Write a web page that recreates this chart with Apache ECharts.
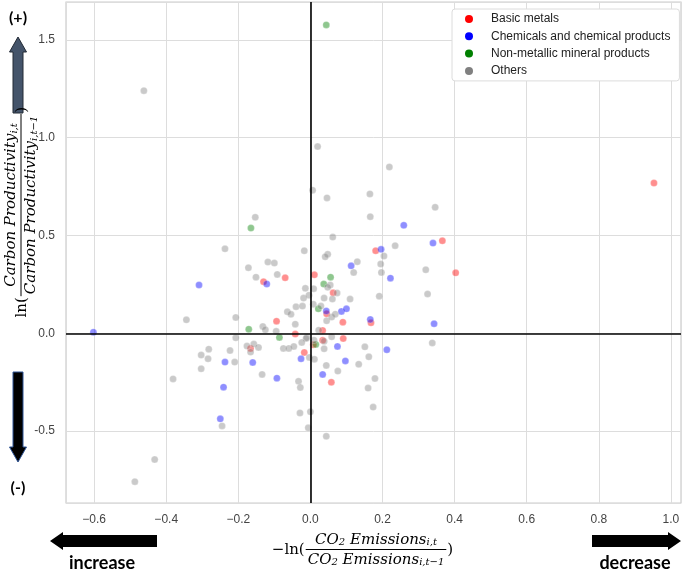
<!DOCTYPE html>
<html><head><meta charset="utf-8">
<script src="https://cdn.jsdelivr.net/npm/echarts@6/dist/echarts.min.js"></script>
<style>html,body{margin:0;padding:0;background:#fff}#c{width:685px;height:572px}</style>
</head><body><div id="c"></div>
<script>
const categories = ['Basic metals','Chemicals and chemical products','Non-metallic mineral products','Others'];
const legendColors = ['#ff0000','#0000ff','#008000','#808080'];
const pointColors = ['rgba(255,0,0,0.55)','rgba(0,0,255,0.55)','rgba(0,128,0,0.55)','rgba(128,128,128,0.52)'];

const basicMetals = [[0.953,0.768],[0.366,0.473],[0.403,0.309],[0.181,0.422],[0.011,0.299],[0.063,0.207],[0.045,0.100],[0.090,0.057],[0.168,0.054],[0.034,0.015],[0.091,-0.027],[0.034,-0.036],[0.008,-0.059],[0.058,-0.250],[-0.017,-0.098],[-0.042,-0.004],[-0.094,0.062],[-0.130,0.264],[-0.070,0.284],[-0.166,-0.077]];
const chemicals = [[-0.602,0.006],[0.259,0.552],[0.196,0.429],[0.340,0.461],[0.113,0.345],[0.222,0.282],[0.044,0.114],[0.086,0.112],[0.100,0.125],[0.166,0.071],[0.343,0.049],[-0.309,0.247],[-0.121,0.252],[-0.026,-0.130],[-0.237,-0.147],[-0.160,-0.149],[-0.093,-0.229],[-0.241,-0.275],[-0.250,-0.437],[0.075,-0.067],[0.212,-0.084],[0.097,-0.141],[0.034,-0.210]];
const nonMetallic = [[0.044,1.576],[-0.165,0.538],[0.056,0.287],[0.037,0.252],[0.022,0.125],[-0.171,0.021],[-0.086,-0.021],[0.015,-0.057]];
const others = [[-0.462,1.240],[0.020,0.954],[0.006,0.731],[0.046,0.692],[0.165,0.712],[0.166,0.596],[-0.153,0.593],[0.062,0.492],[-0.237,0.432],[-0.017,0.422],[0.048,0.404],[0.041,0.391],[0.219,0.850],[0.346,0.644],[0.235,0.448],[0.204,0.395],[0.130,0.366],[0.195,0.354],[0.320,0.325],[-0.172,0.335],[-0.118,0.364],[-0.100,0.359],[-0.151,0.287],[-0.092,0.301],[-0.014,0.230],[-0.019,0.180],[-0.344,0.069],[-0.207,0.081],[-0.064,0.110],[-0.054,0.097],[-0.040,0.136],[-0.022,0.139],[-0.042,0.047],[-0.132,0.035],[-0.125,0.018],[-0.095,0.010],[-0.207,-0.023],[-0.010,-0.021],[0.120,0.311],[0.197,0.311],[0.055,0.247],[0.048,0.235],[0.009,0.228],[0.074,0.206],[-0.004,0.195],[0.038,0.180],[0.061,0.175],[0.110,0.175],[0.191,0.190],[0.325,0.201],[0.008,0.149],[0.029,0.139],[0.045,0.064],[0.059,0.083],[0.069,0.098],[0.023,0.016],[-0.012,-0.026],[0.059,-0.018],[-0.176,-0.065],[-0.157,-0.055],[-0.144,-0.072],[-0.166,-0.096],[-0.075,-0.077],[-0.060,-0.077],[-0.046,-0.067],[-0.024,-0.047],[-0.282,-0.081],[-0.303,-0.111],[-0.284,-0.130],[-0.223,-0.088],[-0.210,-0.147],[-0.303,-0.181],[-0.381,-0.233],[-0.134,-0.210],[-0.033,-0.245],[-0.028,-0.277],[-0.029,-0.407],[-0.245,-0.473],[-0.006,-0.483],[0.010,-0.035],[0.038,-0.040],[0.038,-0.079],[-0.003,-0.123],[0.011,-0.132],[0.151,-0.069],[0.162,-0.120],[0.338,-0.049],[0.134,-0.158],[0.044,-0.164],[0.076,-0.193],[0.179,-0.231],[0.160,-0.280],[0.174,-0.377],[0.000,-0.401],[0.044,-0.526],[-0.432,-0.645],[-0.487,-0.758]];
const seriesData = [basicMetals, chemicals, nonMetallic, others];

const xRange = [-0.678, 1.028];
const yRange = [-0.867, 1.693];

// text measurement for the math-style axis titles
const mctx = document.createElement('canvas').getContext('2d');
function tw(t, font){ mctx.font = font; return mctx.measureText(t).width; }

function makeFrac(cx, cy, rot, size, prefix, num, den){
  const subSize = Math.round(size*0.68);
  const mFont = 'italic ' + size + 'px "DejaVu Serif"';
  const sFont = 'italic ' + subSize + 'px "DejaVu Serif"';
  const width = parts => parts.reduce((a,p)=>a + tw(p[0], p[1]==='m'?mFont:sFont), 0);
  const rich = parts => parts.map(p => '{' + p[1] + '|' + p[0] + '}').join('');
  const barW = Math.max(width(num), width(den)) + 4;
  const richStyle = {
    m:{fontFamily:'DejaVu Serif', fontStyle:'italic', fontSize:size, lineHeight:size+3, verticalAlign:'bottom', fill:'#000'},
    s:{fontFamily:'DejaVu Serif', fontStyle:'italic', fontSize:subSize, lineHeight:subSize-3, verticalAlign:'bottom', fill:'#000'}
  };
  return {
    type:'group', x:cx, y:cy, rotation:rot, silent:true,
    children:[
      {type:'line', shape:{x1:-barW/2, y1:0, x2:barW/2, y2:0}, style:{stroke:'#000', lineWidth:1}},
      {type:'text', style:{text:rich(num), x:0, y:-2, align:'center', verticalAlign:'bottom', rich:richStyle, fill:'#000', fontFamily:'DejaVu Serif', fontSize:size}},
      {type:'text', style:{text:rich(den), x:0, y:0, align:'center', verticalAlign:'top', rich:richStyle, fill:'#000', fontFamily:'DejaVu Serif', fontSize:size}},
      {type:'text', style:{text:prefix, x:-barW/2 - 1, y:1, align:'right', verticalAlign:'middle', fill:'#000', font: size + 'px "DejaVu Serif"'}},
      {type:'text', style:{text:')', x:barW/2 + 1, y:1, align:'left', verticalAlign:'middle', fill:'#000', font: size + 'px "DejaVu Serif"'}}
    ]
  };
}

const boldFont = 'bold 18px Lato';
const graphics = [
  {type:'text', silent:true, style:{text:'(+)', x:18, y:18, align:'center', verticalAlign:'middle', font:'bold 16px Lato', fill:'#000'}},
  {type:'polygon', silent:true, shape:{points:[[13,113],[13,52],[9.5,52],[18,37],[26.5,52],[23,52],[23,113]]}, style:{fill:'#44546a', stroke:'#222a35', lineWidth:1}},
  {type:'polygon', silent:true, shape:{points:[[13,372],[13,447],[9.5,447],[18,462],[26.5,447],[23,447],[23,372]]}, style:{fill:'#000', stroke:'#2f5597', lineWidth:1}},
  {type:'text', silent:true, style:{text:'(-)', x:18, y:488, align:'center', verticalAlign:'middle', font:'bold 16px Lato', fill:'#000'}},
  {type:'polygon', silent:true, shape:{points:[[50,541],[63,532],[63,535],[157,535],[157,547],[63,547],[63,550]]}, style:{fill:'#000'}},
  {type:'polygon', silent:true, shape:{points:[[681,541],[668,532],[668,535],[592,535],[592,547],[668,547],[668,550]]}, style:{fill:'#000'}},
  {type:'text', silent:true, style:{text:'increase', x:102, y:563, align:'center', verticalAlign:'middle', font:boldFont, fill:'#000'}},
  {type:'text', silent:true, style:{text:'decrease', x:635, y:563, align:'center', verticalAlign:'middle', font:boldFont, fill:'#000'}},
  makeFrac(376, 549.5, 0, 15, '\u2212ln(', [['CO','m'],['2','s'],[' Emissions','m'],['i,t','s']], [['CO','m'],['2','s'],[' Emissions','m'],['i,t\u22121','s']]),
  makeFrac(21, 205, Math.PI/2, 15, 'ln(', [['Carbon Productivity','m'],['i,t','s']], [['Carbon Productivity','m'],['i,t\u22121','s']])
];

const chart = echarts.init(document.getElementById('c'), null, {renderer:'canvas'});
const tickFont = {fontFamily:'Liberation Sans', fontSize:12, color:'#444'};
chart.setOption({
  animation:false,
  backgroundColor:'#fff',
  grid:{left:66, right:4, top:2, bottom:69, show:true, borderColor:'#cccccc', borderWidth:1.2, backgroundColor:'transparent'},
  xAxis:{type:'value', min:xRange[0], max:xRange[1], splitNumber:8,
    axisLine:{show:false}, axisTick:{show:false},
    splitLine:{show:true, lineStyle:{color:'#dddddd', width:1}},
    axisLabel:Object.assign({showMinLabel:false, showMaxLabel:false, margin:11,
      formatter:v => { if (Math.abs(v*5 - Math.round(v*5))>1e-6) return ''; const r = Math.round(v*10)/10; return (r<0?'\u2212':'') + Math.abs(r).toFixed(1);} }, tickFont)},
  yAxis:{type:'value', min:yRange[0], max:yRange[1], splitNumber:5,
    axisLine:{show:false}, axisTick:{show:false},
    splitLine:{show:true, lineStyle:{color:'#dddddd', width:1}},
    axisLabel:Object.assign({showMinLabel:false, showMaxLabel:false, margin:11,
      formatter:v => { if (Math.abs(v*2 - Math.round(v*2))>1e-6) return ''; const r = Math.round(v*10)/10; return (r<0?'-':'') + Math.abs(r).toFixed(1);} }, tickFont)},
  legend:{orient:'vertical', left:452, top:9, itemWidth:8, itemHeight:8, itemGap:3.3,
    padding:[3,9,3,13], backgroundColor:'#fff', borderColor:'#dcdcdc', borderWidth:1, borderRadius:3,
    textStyle:{fontFamily:'Liberation Sans', fontSize:12, color:'#222', lineHeight:14, padding:[0,0,0,13]},
    data:categories.map((n,i)=>({name:n, icon:'circle', itemStyle:{color:legendColors[i], opacity:1, borderWidth:0}}))},
  series:categories.map((n,i)=>({
    name:n, type:'scatter', data:seriesData[i], symbolSize:7,
    itemStyle:{color:pointColors[i], borderColor:'rgba(255,255,255,0.6)', borderWidth:0.5},
    emphasis:{disabled:true},
    markLine: i===0 ? {silent:true, symbol:'none', label:{show:false}, animation:false,
      lineStyle:{color:'#000', width:1.6, type:'solid'}, emphasis:{disabled:true},
      data:[{xAxis:0},{yAxis:0}]} : undefined
  })),
  graphic:graphics
});
</script></body></html>
